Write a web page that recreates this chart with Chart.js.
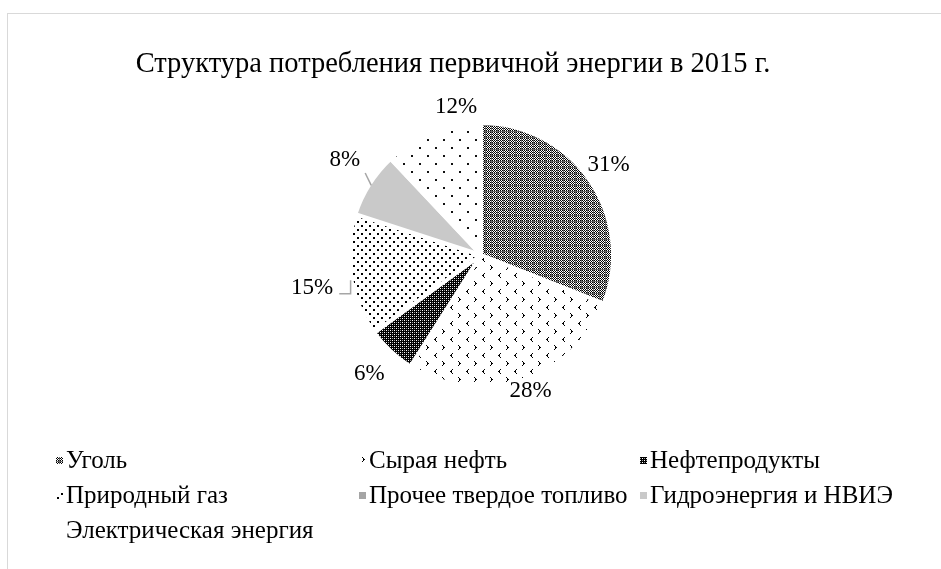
<!DOCTYPE html>
<html>
<head>
<meta charset="utf-8">
<script src="https://cdn.jsdelivr.net/npm/chart.js@4.4.1/dist/chart.umd.min.js"></script>
<style>
  html, body { margin: 0; padding: 0; background: #fff; overflow: hidden; }
  #frame { position: absolute; left: 7px; top: 13px; width: 1000px; height: 700px; border: 1px solid #d9d9d9; }
  #wrap { position: absolute; left: 0; top: 0; width: 941px; height: 569px; }
</style>
</head>
<body>
<div id="frame"></div>
<div id="wrap"><canvas id="chart" width="941" height="569"></canvas></div>
<script>
// data
const TITLE = "Структура потребления первичной энергии в 2015 г.";
const categories = [
  "Уголь",
  "Сырая нефть",
  "Нефтепродукты",
  "Природный газ",
  "Прочее твердое топливо",
  "Гидроэнергия и НВИЭ",
  "Электрическая энергия"
];
const shares = [31, 28, 6, 15, 0, 8, 12];

const SERIF = '"Liberation Serif", "Times New Roman", serif';

// small repeating tiles -> canvas patterns
function tile(w, h, paint) {
  const c = document.createElement("canvas");
  c.width = w;
  c.height = h;
  const g = c.getContext("2d");
  g.fillStyle = "#fff";
  g.fillRect(0, 0, w, h);
  paint(g);
  return g.createPattern(c, "repeat");
}

function dots(g, color, list) {
  g.fillStyle = color;
  list.forEach(([x, y, w, h]) => g.fillRect(x, y, w || 1, h || 1));
}

function chevron(g, x, y, right) {
  const s = right ? 1 : -1;
  const o = right ? 0 : 2;
  dots(g, "#000", [
    [x + o, y], [x + o + s, y + 1], [x + o + 2 * s, y + 2],
    [x + o + s, y + 2], [x + o + s, y + 3], [x + o, y + 4]
  ]);
}

const coalFill = tile(6, 6, g => {
  for (let y = 0; y < 5; y++) {
    for (let x = 0; x < 5; x++) {
      if ((x + y) % 2 === 0) dots(g, "#000", [[x, y]]);
    }
  }
  dots(g, "#666", [[5, 0, 1, 6], [0, 5, 6, 1]]);
});

const crudeFill = tile(16, 16, g => {
  chevron(g, 2, 1, false);
  chevron(g, 10, 9, true);
});

const productsFill = tile(4, 4, g => {
  g.fillStyle = "#000";
  g.fillRect(0, 0, 4, 4);
  dots(g, "#fff", [[0, 0], [2, 2]]);
  dots(g, "#9a9a9a", [[2, 0], [0, 2]]);
});

const gasFill = tile(8, 8, g => {
  dots(g, "#000", [[1, 1, 2, 2], [5, 5, 2, 2]]);
});

const powerFill = tile(16, 16, g => {
  dots(g, "#111", [[3, 3, 2, 2], [11, 11, 2, 2]]);
});

const fills = [coalFill, crudeFill, productsFill, gasFill, "#a5a5a5", "#c9c9c9", powerFill];

// percent labels just outside the slices, with Excel-like leader lines
const pctLabels = {
  id: "pctLabels",
  afterDatasetsDraw(chart, args, opts) {
    const ctx = chart.ctx;
    const arcs = chart.getDatasetMeta(0).data;
    ctx.save();
    ctx.font = opts.font;
    ctx.textAlign = "center";
    ctx.textBaseline = "middle";
    arcs.forEach((arc, i) => {
      const v = shares[i];
      if (!v) return;
      const p = arc.getProps(["x", "y", "startAngle", "endAngle", "outerRadius"], true);
      const r = p.outerRadius - 2;
      const mid = (p.startAngle + p.endAngle) / 2;
      const a = mid + (opts.turn[i] || 0) * Math.PI / 180;
      const d = r + opts.gap[i];
      const lx = p.x + Math.cos(a) * d;
      const ly = p.y + Math.sin(a) * d;

      const txt = v + "%";
      const w = ctx.measureText(txt).width;
      const box = { x1: lx - w / 2 - 5, x2: lx + w / 2 + 5, y1: ly - 13, y2: ly + 13 };
      const ax = p.x + Math.cos(mid) * r;
      const ay = p.y + Math.sin(mid) * r;

      ctx.strokeStyle = "#a6a6a6";
      ctx.lineWidth = 1.5;
      if (opts.leader[i] === "line") {
        ctx.beginPath();
        ctx.moveTo(ax, ay);
        ctx.lineTo(Math.min(Math.max(ax, box.x1), box.x2), Math.min(Math.max(ay, box.y1), box.y2));
        ctx.stroke();
      } else if (opts.leader[i] === "elbow") {
        ctx.beginPath();
        ctx.moveTo(ax - 2, ay + 5);
        ctx.lineTo(ax - 2, ly + 6);
        ctx.lineTo(box.x2 + 1, ly + 6);
        ctx.stroke();
      }

      ctx.fillStyle = "#000";
      ctx.fillText(txt, lx, ly);
    });
    ctx.restore();
  }
};

// title + three-column legend drawn on the same canvas
const frameText = {
  id: "frameText",
  afterDraw(chart, args, opts) {
    const ctx = chart.ctx;
    ctx.save();
    ctx.fillStyle = "#000";
    ctx.textBaseline = "middle";
    ctx.textAlign = "center";
    ctx.font = opts.titleFont;
    ctx.fillText(TITLE, opts.titleX, opts.titleY);

    ctx.font = opts.legendFont;
    ctx.textAlign = "left";
    const bg = chart.data.datasets[0].backgroundColor;
    chart.data.labels.forEach((label, i) => {
      const col = i % 3;
      const row = Math.floor(i / 3);
      const x = opts.colX[col];
      const y = opts.rowY[row];
      ctx.fillStyle = bg[i];
      ctx.fillRect(x, y - 4, 7, 7);
      ctx.fillStyle = "#000";
      ctx.fillText(label, x + 10, y);
    });
    ctx.restore();
  }
};

new Chart(document.getElementById("chart"), {
  type: "pie",
  data: {
    labels: categories,
    datasets: [{
      data: shares,
      backgroundColor: fills,
      borderColor: "#ffffff",
      borderWidth: 4
    }]
  },
  options: {
    responsive: false,
    animation: false,
    devicePixelRatio: 1,
    radius: 132,
    layout: { padding: { left: 331, top: 105, right: 310, bottom: 164 } },
    plugins: {
      legend: { display: false },
      title: { display: false },
      tooltip: { enabled: false },
      pctLabels: {
        font: "23px " + SERIF,
        gap: [26, 15, 33, 42, 0, 36, 20],
        turn: [-1, -2, 0, -2, 0, 2.5, 12],
        leader: ["", "", "", "elbow", "", "line", ""]
      },
      frameText: {
        titleFont: "28.5px " + SERIF,
        titleX: 453,
        titleY: 65,
        legendFont: "25px " + SERIF,
        colX: [56, 359, 640],
        rowY: [461, 496, 531]
      }
    }
  },
  plugins: [pctLabels, frameText]
});
</script>
</body>
</html>
